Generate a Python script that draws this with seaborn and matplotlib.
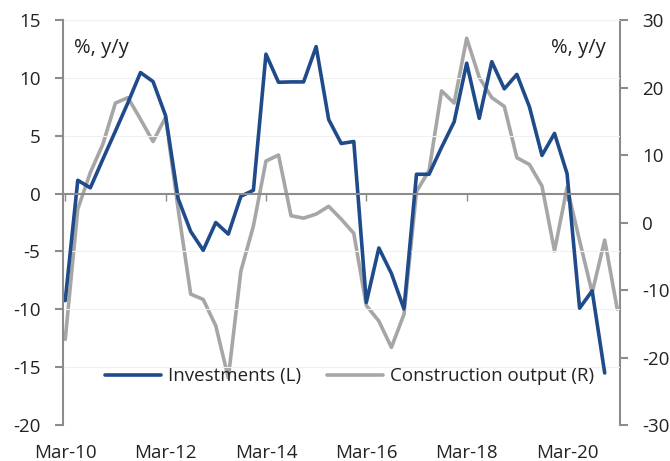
import numpy as np
import pandas as pd
import seaborn as sns
import matplotlib.pyplot as plt

# quarterly data, Mar-10 onwards
investments = [-9.25, 1.15, 0.5, 2.97, 5.4, 7.86, 10.46, 9.68, 6.73, -0.43,
               -3.27, -4.9, -2.5, -3.5, -0.23, 0.29, 12.05, 9.62, 9.65, 9.65,
               12.7, 6.4, 4.33, 4.5, -9.4, -4.7, -6.9, -9.97, 1.67, 1.67,
               4.0, 6.2, 11.27, 6.5, 11.4, 9.05, 10.3, 7.5, 3.3, 5.2,
               1.73, -9.9, -8.4, -15.5]
construction = [-17.3, 2.0, 7.4, 11.6, 17.7, 18.5, 15.3, 12.0, 15.6, 2.0,
                -10.6, -11.4, -15.3, -23.0, -7.2, -0.5, 9.1, 10.0, 1.0, 0.65,
                1.25, 2.4, 0.5, -1.6, -12.3, -14.6, -18.5, -13.6, 4.6, 7.7,
                19.5, 17.7, 27.3, 21.5, 18.5, 17.2, 9.6, 8.6, 5.4, -4.2,
                5.2, -2.7, -10.4, -2.6, -12.8]
tick_pos = [0, 8, 16, 24, 32, 40]
tick_labels = ['Mar-10', 'Mar-12', 'Mar-14', 'Mar-16', 'Mar-18', 'Mar-20']

BLUE = '#1f4b8a'
GREY = '#a6a6a6'
AXC = '#8c8c8c'
TXT = '#222222'
FS = 13.5

sns.set_style('white')
plt.rcParams['font.family'] = ['Open Sans', 'DejaVu Sans']
plt.rcParams['font.size'] = FS
plt.rcParams['axes.unicode_minus'] = False

inv_df = pd.DataFrame({'q': np.arange(len(investments)), 'val': investments})
con_df = pd.DataFrame({'q': np.arange(len(construction)), 'val': construction})

fig = plt.figure(figsize=(6.7, 4.61), dpi=100)
ax = fig.add_axes([0.0936, 0.078, 0.8314, 0.8786])
ax2 = ax.twinx()

sns.lineplot(data=con_df, x='q', y='val', ax=ax2, color=GREY, lw=2.6, label='Construction output (R)', legend=False)
sns.lineplot(data=inv_df, x='q', y='val', ax=ax, color=BLUE, lw=2.6, label='Investments (L)', legend=False)
ax.set_zorder(ax2.get_zorder() + 1)
ax.patch.set_visible(False)

ax.set_xlim(-0.2, 44.2)
ax.set_ylim(-20, 15)
ax2.set_ylim(-30, 30)
ax.set_yticks(range(-20, 16, 5))
ax2.set_yticks(range(-30, 31, 10))
ax.set_xlabel('')
ax.set_ylabel('')
ax2.set_ylabel('')

for y in range(-20, 16, 5):
    if y != 0:
        ax.axhline(y, color='#f0f0f0', lw=0.8, zorder=0)

for a in (ax, ax2):
    for s in a.spines.values():
        s.set_visible(False)
ax.spines['left'].set_visible(True)
ax.spines['left'].set_color(AXC)
ax.spines['left'].set_linewidth(1.5)
ax2.spines['right'].set_visible(True)
ax2.spines['right'].set_color(AXC)
ax2.spines['right'].set_linewidth(1.5)

# horizontal axis crosses at zero, labels sit low
ax.spines['bottom'].set_visible(True)
ax.spines['bottom'].set_position(('data', 0))
ax.spines['bottom'].set_color(AXC)
ax.spines['bottom'].set_linewidth(1.5)
ax.set_xticks(tick_pos)
ax.tick_params(axis='x', bottom=True, labelbottom=False, length=5, width=1, color=AXC, direction='out')
sec = ax.secondary_xaxis(0.0)
sec.set_xticks(tick_pos)
sec.set_xticklabels(tick_labels)
sec.tick_params(axis='x', length=0, pad=14, labelsize=FS, labelcolor=TXT)
sec.spines['bottom'].set_visible(False)

ax.tick_params(axis='y', left=True, length=6, width=1.5, color=AXC, pad=10, labelsize=FS, labelcolor=TXT)
ax2.tick_params(axis='y', right=True, length=6, width=1.5, color=AXC, pad=10, labelsize=FS, labelcolor=TXT)

ax.text(0.02, 0.93, '%, y/y', transform=ax.transAxes, ha='left', va='center', fontsize=14.5, color=TXT)
ax.text(0.975, 0.93, '%, y/y', transform=ax.transAxes, ha='right', va='center', fontsize=14.5, color=TXT)

h1, l1 = ax.get_legend_handles_labels()
h2, l2 = ax2.get_legend_handles_labels()
ax.legend(h1 + h2, l1 + l2, loc='center', bbox_to_anchor=(0.515, 0.12), ncol=2, frameon=False,
          fontsize=FS, handlelength=3.0, handletextpad=0.35, columnspacing=1.4, labelcolor=TXT)

fig.savefig('out.png', dpi=100)
